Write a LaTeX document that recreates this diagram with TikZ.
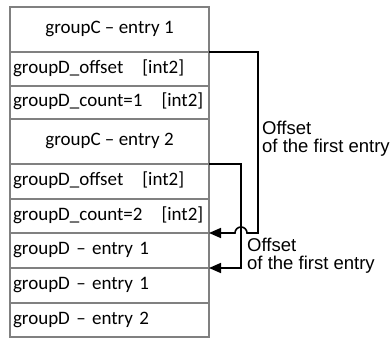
\documentclass[tikz,border=0pt]{standalone}
\usepackage{fontspec}
\setmainfont{Carlito}
\newfontfamily\arialf{Liberation Sans}
\usetikzlibrary{arrows.meta}
\definecolor{boxgray}{RGB}{128,128,128}
\tikzset{
  row/.style={draw=boxgray, line width=1.3pt, minimum width=199pt, inner sep=3pt, outer sep=0pt, anchor=north west,
    font=\fontsize{19}{20}\selectfont, text height=13pt, text depth=4pt},
  lrow/.style={row, text width=193pt, align=left},
  crow/.style={row, align=center},
  conn/.style={line width=1.6pt, -{Triangle[length=12pt,width=10pt]}},
  lbl/.style={font=\arialf\fontsize{18.5}{18}\selectfont, align=left, anchor=west, inner sep=0pt}
}
\begin{document}
\begin{tikzpicture}[x=1pt,y=1pt]
\useasboundingbox (0,0) rectangle (392,338);
\node[crow, minimum height=45pt] (r1) at (10,331) {groupC – entry 1};
\node[lrow, minimum height=34pt] (r2) at (r1.south west) {groupD\_offset\ \ \ [int2]};
\node[lrow, minimum height=33pt] (r3) at (r2.south west) {groupD\_count=1\ \ \ [int2]};
\node[crow, minimum height=45pt] (r4) at (r3.south west) {groupC – entry 2};
\node[lrow, minimum height=35pt] (r5) at (r4.south west) {groupD\_offset\ \ \ [int2]};
\node[lrow, minimum height=34pt] (r6) at (r5.south west) {groupD\_count=2\ \ \ [int2]};
\node[lrow, minimum height=35pt] (r7) at (r6.south west) {groupD – entry 1};
\node[lrow, minimum height=35pt] (r8) at (r7.south west) {groupD – entry 1};
\node[lrow, minimum height=34pt] (r9) at (r8.south west) {groupD – entry 2};
% connectors
\coordinate (a1) at ([xshift=49pt]r1.south east);
\coordinate (a2) at (a1 |- r7.north east);
\draw[conn] (r1.south east) -- (a1) -- (a2) -- (247,0 |- a2) arc[start angle=0, end angle=180, radius=6pt] -- (r7.north east);
\coordinate (b1) at (241,0 |- r4.south east);
\coordinate (b2) at (b1 |- r8.north east);
\draw[conn] (r4.south east) -- (b1) -- (b2) -- (r8.north east);
\node[lbl] (l1) at (262,199.5) {Offset\\of the first entry};
\node[lbl] (l2) at (247,82) {Offset\\of the first entry};
\end{tikzpicture}
\end{document}
